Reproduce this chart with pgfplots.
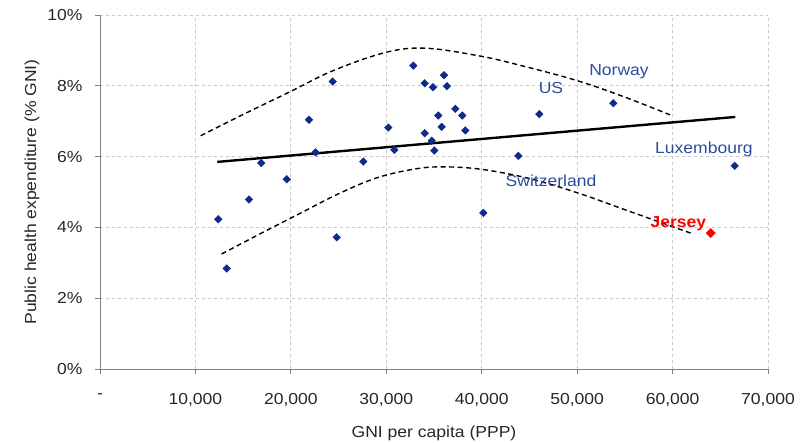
\documentclass[border=0pt]{standalone}
\usepackage{pgfplots}
\pgfplotsset{compat=1.18}
\usepackage{fontspec}
\setmainfont{Liberation Sans}[FakeStretch=1.1]

\definecolor{navy}{HTML}{0B2C8C}
\definecolor{lblue}{HTML}{2E4C9E}
\definecolor{gridgray}{HTML}{C8C8C8}
\definecolor{axgray}{HTML}{7F7F7F}
\definecolor{txt}{HTML}{262626}

\begin{document}
\fontsize{16}{19}\selectfont
\begin{tikzpicture}
\begin{axis}[
  name=ax,
  scale only axis,
  width=668bp, height=354bp,
  xmin=0, xmax=70000, ymin=0, ymax=10,
  axis x line=bottom, axis y line=left,
  axis line style={-, axgray, line width=0.9bp},
  scaled x ticks=false,
  xtick={0,10000,...,70000},
  xticklabels={-,10{,}000,20{,}000,30{,}000,40{,}000,50{,}000,60{,}000,70{,}000},
  ytick={0,2,...,10},
  yticklabels={0\%,2\%,4\%,6\%,8\%,10\%},
  tick align=outside,
  major tick length=5bp,
  tick style={axgray, line width=0.9bp},
  ticklabel style={text=txt},
  xticklabel shift=14bp,
  yticklabel shift=7bp,
  grid=major,
  major grid style={gridgray, dash pattern=on 3bp off 3bp, line width=0.8bp},
  xlabel={GNI per capita (PPP)},
  ylabel={Public health expenditure (\% GNI)},
  xlabel style={at={(axis description cs:0.5,-0.1808)}, anchor=center, text=txt},
  ylabel style={at={(axis description cs:-0.1018,0.5)}, anchor=center, text=txt},
  clip=false,
]
% regression line
\addplot[black, line width=2.4bp] coordinates {(12290,5.85) (66570,7.12)};

% upper band
\addplot[black, dash pattern=on 5bp off 3.5bp, line width=1.4bp, smooth, tension=0.6] coordinates {
 (10550,6.59) (15000,7.19) (19900,7.83) (24450,8.43) (30040,8.95) (34230,9.06)
 (39820,8.84) (44000,8.58) (49950,8.15) (55000,7.68) (59730,7.18)};

% lower band
\addplot[black, dash pattern=on 5bp off 3.5bp, line width=1.4bp, smooth, tension=0.6] coordinates {
 (12750,3.25) (17000,3.85) (21000,4.40) (25000,4.95) (29000,5.40) (33000,5.65)
 (36000,5.71) (40000,5.64) (45000,5.38) (50000,4.98) (55000,4.50) (60000,4.02)
 (62000,3.83)};

% countries
\addplot[only marks, mark=square*, mark options={rotate=45}, mark size=2.7bp, color=navy] coordinates {
 (12397,4.23) (13277,2.84) (15613,4.79) (16903,5.82) (19564,5.36) (21901,7.04)
 (22603,6.12) (24384,8.12) (24804,3.72) (27591,5.86) (30211,6.82) (30839,6.19)
 (32830,8.57) (34025,8.07) (34895,7.96) (36047,8.30) (36362,7.99) (35450,7.16)
 (37232,7.35) (37965,7.16) (35806,6.84) (38279,6.74) (34025,6.66) (34759,6.45)
 (35031,6.17) (40166,4.41) (43833,6.02) (46034,7.20) (53788,7.51) (66509,5.74)};

% Jersey
\addplot[only marks, mark=square*, mark options={rotate=45}, mark size=3.3bp, color=red] coordinates {(63994,3.84)};

\node[text=lblue] at (axis cs:54390,8.39) {Norway};
\node[text=lblue] at (axis cs:47260,7.94) {US};
\node[text=lblue] at (axis cs:63290,6.21) {Luxembourg};
\node[text=lblue] at (axis cs:47260,5.31) {Switzerland};
\node[text=red, font=\bfseries] at (axis cs:60600,4.10) {Jersey};
\end{axis}
\pgfresetboundingbox
\path (ax.south west) ++(-100bp,-74bp) rectangle ++(802bp,443bp);
\end{tikzpicture}
\end{document}
